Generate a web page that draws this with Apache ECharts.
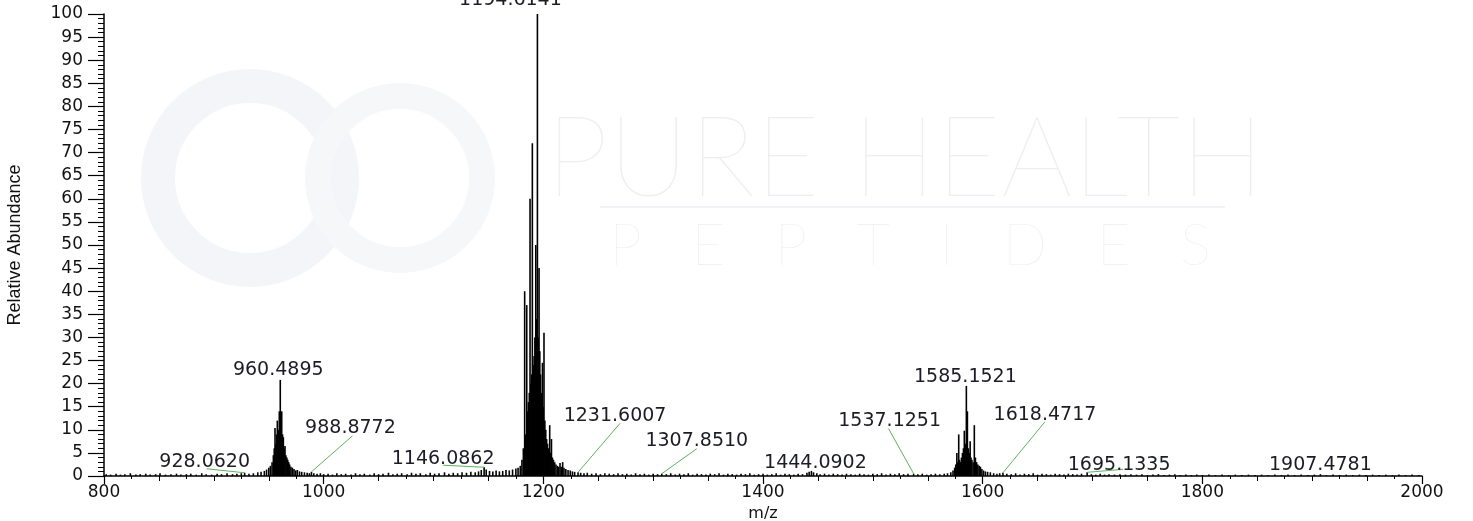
<!DOCTYPE html>
<html>
<head>
<meta charset="utf-8">
<script src="https://cdn.jsdelivr.net/npm/echarts@6/dist/echarts.min.js"></script>
<style>
  html, body { margin: 0; padding: 0; background: #fff; }
  #app { width: 1473px; height: 521px; }
</style>
</head>
<body>
<div id="app"></div>
<script>
// 坐标轴刻度
const xTicks = [800, 1000, 1200, 1400, 1600, 1800, 2000]
const yTicks = [0, 5, 10, 15, 20, 25, 30, 35, 40, 45, 50, 55, 60, 65, 70, 75, 80, 85, 90, 95, 100]

// 谱峰 [m/z, 相对丰度]
const noise800 = [
  [802, 0.4], [806, 0.3], [811, 0.5], [815, 0.3], [819, 0.4], [824, 0.6], [829, 0.3], [833, 0.4],
  [838, 0.5], [842, 0.3], [847, 0.4], [851, 0.6], [856, 0.3], [861, 0.4], [866, 0.5], [870, 0.3],
  [875, 0.4], [879, 0.5], [884, 0.3], [889, 0.6], [893, 0.4], [898, 0.3], [903, 0.5], [907, 0.4],
  [912, 0.6], [917, 0.4], [921, 0.5], [925, 0.6], [928.06, 0.7], [932, 0.5], [936, 0.6], [940, 0.8],
  [943, 0.9], [946, 1.1], [948, 1.4], [950, 1.8], [951.5, 2.2]
]
const cluster960 = [
  [953, 3], [954.2, 4.5], [955, 6], [955.7, 10.4], [956.5, 7], [957.2, 9], [957.8, 12], [958.6, 10],
  [959.6, 14], [960.49, 20.8], [961.1, 11], [961.8, 14], [962.6, 9], [963.3, 8.4], [964, 6], [964.8, 6.5],
  [965.6, 4.5], [966.5, 4], [967.3, 3.5], [968.2, 3], [969, 2.5], [970.2, 2], [971.5, 1.8], [973, 1.5],
  [974.5, 1.2], [976, 1.3], [978, 1], [980, 0.9], [982.5, 0.8], [985, 0.7], [987, 0.6], [988.88, 0.9],
  [991, 0.6], [994, 0.5], [997, 0.6], [1000, 0.4]
]
const noise1000 = [
  [1004, 0.5], [1008, 0.3], [1012, 0.6], [1016, 0.4], [1020, 0.5], [1025, 0.3], [1029, 0.6], [1033, 0.4],
  [1037, 0.5], [1042, 0.3], [1046, 0.6], [1050, 0.4], [1054, 0.5], [1059, 0.7], [1063, 0.4], [1067, 0.5],
  [1071, 0.6], [1076, 0.4], [1080, 0.7], [1084, 0.5], [1088, 0.6], [1093, 0.4], [1097, 0.7], [1101, 0.5],
  [1105, 0.6], [1110, 0.8], [1114, 0.5], [1118, 0.7], [1122, 0.6], [1126, 0.8], [1130, 0.7], [1134, 0.9],
  [1138, 0.8], [1141, 1], [1143.5, 1.3], [1146.09, 1.9], [1148, 1.4], [1151, 1.1], [1154, 1], [1157, 1.2],
  [1160, 1], [1163, 1.1], [1166, 1.3], [1169, 1.2], [1172, 1.4], [1175, 1.6], [1177, 1.8], [1179, 2.2],
  [1180.5, 3.5]
]
const cluster1194 = [
  [1181.8, 6], [1183, 40], [1183.8, 9], [1184.9, 37], [1185.6, 14], [1186.4, 16], [1187.2, 18], [1187.9, 60],
  [1188.7, 20], [1189.4, 22], [1190, 72], [1190.8, 24], [1191.6, 26], [1192.3, 30], [1193.1, 50], [1193.8, 34],
  [1194.61, 100], [1195.3, 30], [1196.1, 45], [1196.8, 27], [1197.5, 22], [1198.3, 18], [1199.2, 24.5], [1199.9, 15],
  [1200.6, 31], [1201.4, 12], [1202.2, 10], [1203, 8], [1203.8, 7], [1204.6, 6], [1205.8, 11], [1206.6, 5],
  [1207.4, 8], [1208.3, 4], [1209.2, 3.5], [1210.3, 3], [1211.5, 2.5], [1212.8, 2.2], [1214, 2], [1215.2, 2.8],
  [1216.4, 2], [1217.6, 3], [1218.8, 1.8], [1220.5, 1.5], [1222.5, 1.3], [1224.5, 1.2], [1226.5, 1], [1228.5, 0.9],
  [1231.6, 0.8], [1234, 0.7], [1237, 0.6], [1240, 0.7]
]
const noise1240 = [
  [1244, 0.5], [1248, 0.6], [1252, 0.4], [1256, 0.6], [1260, 0.5], [1264, 0.4], [1268, 0.6], [1272, 0.4],
  [1276, 0.5], [1280, 0.3], [1284, 0.6], [1288, 0.4], [1292, 0.5], [1296, 0.3], [1300, 0.5], [1304, 0.4],
  [1307.85, 0.5], [1312, 0.4], [1316, 0.6], [1320, 0.3], [1324, 0.5], [1328, 0.4], [1332, 0.6], [1336, 0.3],
  [1340, 0.5], [1344, 0.4], [1348, 0.3], [1352, 0.5], [1356, 0.4], [1360, 0.6], [1364, 0.3], [1368, 0.5],
  [1372, 0.4], [1376, 0.3], [1380, 0.5], [1384, 0.4], [1388, 0.6], [1392, 0.3], [1396, 0.4], [1400, 0.5],
  [1404, 0.3], [1408, 0.4], [1412, 0.6], [1416, 0.3], [1420, 0.5], [1424, 0.4], [1428, 0.3], [1432, 0.5],
  [1436, 0.4], [1440, 0.7], [1442, 0.9], [1444.09, 1.1], [1446, 0.8], [1449, 0.6], [1452, 0.4], [1456, 0.5],
  [1460, 0.3], [1464, 0.5], [1468, 0.4], [1472, 0.3], [1476, 0.5], [1480, 0.4], [1484, 0.3], [1488, 0.5],
  [1492, 0.4], [1496, 0.3], [1500, 0.5], [1504, 0.4], [1508, 0.6], [1512, 0.3], [1516, 0.5], [1520, 0.4],
  [1524, 0.6], [1528, 0.4], [1532, 0.5], [1537.13, 0.5], [1541, 0.4], [1545, 0.5], [1549, 0.3], [1553, 0.4],
  [1557, 0.5], [1561, 0.4], [1565, 0.5], [1568, 0.6], [1571, 0.8], [1573, 1.2], [1574.5, 1.8]
]
const cluster1585 = [
  [1575.5, 2.5], [1576.5, 5], [1577.3, 3], [1578.2, 9], [1579, 3.5], [1579.8, 3], [1580.7, 4], [1581.6, 5],
  [1582.5, 6], [1583.3, 9.8], [1584.2, 7], [1585.15, 19.5], [1586.1, 14], [1587, 6], [1587.8, 5], [1588.6, 7.5],
  [1589.4, 4], [1590.2, 3.5], [1591.3, 3], [1592.4, 11], [1593.4, 4], [1594.5, 3], [1595.6, 2.5], [1596.8, 2.2],
  [1598, 2], [1599.3, 1.5], [1600.8, 1.2], [1602.5, 1], [1604.5, 0.9], [1607, 0.8], [1610, 0.6], [1613, 0.5],
  [1615.5, 0.6], [1618.47, 0.7]
]
const noise1620 = [
  [1622, 0.5], [1626, 0.4], [1630, 0.6], [1634, 0.3], [1638, 0.5], [1642, 0.4], [1646, 0.6], [1650, 0.3],
  [1654, 0.5], [1658, 0.4], [1662, 0.3], [1666, 0.5], [1670, 0.4], [1674, 0.3], [1678, 0.5], [1682, 0.4],
  [1686, 0.3], [1690, 0.5], [1695.13, 0.8], [1699, 0.4], [1703, 0.3], [1707, 0.5], [1711, 0.3], [1715, 0.4],
  [1720, 0.3], [1725, 0.4], [1730, 0.3], [1735, 0.4], [1740, 0.3], [1745, 0.4], [1750, 0.2], [1755, 0.3],
  [1760, 0.4], [1765, 0.2], [1770, 0.3], [1775, 0.4], [1780, 0.2], [1785, 0.3], [1790, 0.2], [1795, 0.3],
  [1800, 0.2], [1806, 0.3], [1812, 0.2], [1818, 0.3], [1824, 0.2], [1830, 0.3], [1836, 0.2], [1842, 0.3],
  [1848, 0.2], [1854, 0.3], [1860, 0.2], [1866, 0.3], [1872, 0.2], [1878, 0.3], [1884, 0.2], [1890, 0.3],
  [1896, 0.2], [1902, 0.3], [1907.48, 0.4], [1913, 0.2], [1919, 0.3], [1925, 0.2], [1931, 0.3], [1937, 0.2],
  [1943, 0.3], [1949, 0.2], [1955, 0.3], [1961, 0.2], [1967, 0.3], [1973, 0.2], [1979, 0.3], [1985, 0.2],
  [1991, 0.3], [1997, 0.2]
]

// 标注的峰
const annotMz = [928.062, 960.4895, 988.8772, 1146.0862, 1194.6141, 1231.6007, 1307.851,
  1444.0902, 1537.1251, 1585.1521, 1618.4717, 1695.1335, 1907.4781]
const annotAbund = [0.7, 20.8, 0.9, 1.9, 100, 0.8, 0.5, 1.1, 0.5, 19.5, 0.7, 0.8, 0.4]
const annotLabels = ['928.0620', '960.4895', '988.8772', '1146.0862', '1194.6141', '1231.6007', '1307.8510',
  '1444.0902', '1537.1251', '1585.1521', '1618.4717', '1695.1335', '1907.4781']

// 标注文字相对峰顶的像素偏移，以及引线终点
const labelOffsets = [[-40, -11], [-2, -10], [39, -44], [-41, -8], [-27, -14], [37, -56], [35, -33],
  [4, -8], [-24, -53], [-1, -9], [42, -58], [32, -7], [0, -9]]
const leaderEnds = [[-38, -4], null, [41, -36], [-41, -2], null, [42, -49], [35, -25],
  null, [-25, -45], null, [42, -51], [36, -3], null]

const peaks = [].concat(noise800, cluster960, noise1000, cluster1194, noise1240, cluster1585, noise1620)
const annots = annotMz.map((m, i) => [m, annotAbund[i]])

const tickFont = 'DejaVu Sans'
const wm = '#eceef2' // 水印颜色

let myChart = echarts.init(document.getElementById('app'))

let option = {
  animation: false,
  backgroundColor: '#fff',
  grid: { left: 104, right: 51, top: 14, bottom: 45, containLabel: false, outerBoundsMode: 'none' },
  // 水印
  graphic: [
    { type: 'circle', z: -10, shape: { cx: 250, cy: 178, r: 92 }, style: { fill: 'none', stroke: '#f4f5f8', lineWidth: 34 } },
    { type: 'circle', z: -10, shape: { cx: 400, cy: 178, r: 82 }, style: { fill: 'none', stroke: '#f6f7f9', lineWidth: 26 } },
    { type: 'text', z: -10, x: 905, y: 160, style: { text: 'PURE HEALTH', align: 'center', verticalAlign: 'middle', font: '200 112px "Lato"', fill: wm } },
    { type: 'line', z: -10, shape: { x1: 600, y1: 207, x2: 1225, y2: 207 }, style: { stroke: '#f1f2f5', lineWidth: 2 } },
    { type: 'text', z: -10, x: 910, y: 246, style: { text: 'P   E   P   T   I   D   E   S', align: 'center', verticalAlign: 'middle', font: '200 58px "Lato"', fill: wm } }
  ],
  xAxis: [
    {
      type: 'value',
      min: xTicks[0],
      max: xTicks[xTicks.length - 1],
      interval: 200,
      name: 'm/z',
      nameLocation: 'middle',
      nameGap: 28,
      nameTextStyle: { fontFamily: tickFont, fontSize: 16, color: '#111' },
      axisLine: { show: true, onZero: false, lineStyle: { color: '#000', width: 1.5 } },
      axisTick: { show: true, length: 8, lineStyle: { color: '#000', width: 1.2 } },
      minorTick: { show: true, splitNumber: 8, length: 3, lineStyle: { color: '#000', width: 1 } },
      axisLabel: { fontFamily: tickFont, fontSize: 17, color: '#111', margin: 8, formatter: v => String(v) },
      splitLine: { show: false }
    },
    {
      type: 'value',
      position: 'bottom',
      min: xTicks[0],
      max: xTicks[xTicks.length - 1],
      interval: 50,
      axisLine: { show: false },
      axisTick: { show: true, length: 5, lineStyle: { color: '#000', width: 1 } },
      axisLabel: { show: false },
      splitLine: { show: false }
    }
  ],
  yAxis: {
    type: 'value',
    min: yTicks[0],
    max: yTicks[yTicks.length - 1],
    interval: 5,
    name: 'Relative Abundance',
    nameLocation: 'middle',
    nameGap: 80,
    nameTextStyle: { fontFamily: 'Liberation Sans Narrow, Liberation Sans', fontSize: 18, color: '#111' },
    axisLine: { show: true, lineStyle: { color: '#000', width: 1.5 } },
    axisTick: { show: true, length: 16, lineStyle: { color: '#000', width: 1.2 } },
    minorTick: { show: true, splitNumber: 5, length: 6, lineStyle: { color: '#000', width: 1 } },
    axisLabel: { fontFamily: tickFont, fontSize: 17, color: '#111', margin: 21 },
    splitLine: { show: false }
  },
  series: [
    {
      // 质谱棒状图
      type: 'custom',
      silent: true,
      data: peaks,
      encode: { x: 0, y: 1 },
      renderItem (params, api) {
        let top = api.coord([api.value(0), api.value(1)])
        let base = api.coord([api.value(0), 0])
        return {
          type: 'line',
          shape: { x1: top[0], y1: top[1], x2: base[0], y2: base[1] },
          style: { stroke: '#000', lineWidth: 1.6 }
        }
      }
    },
    {
      // 峰标注
      type: 'custom',
      silent: true,
      data: annots,
      encode: { x: 0, y: 1 },
      renderItem (params, api) {
        let i = params.dataIndex
        let p = api.coord([api.value(0), api.value(1)])
        let off = labelOffsets[i]
        let end = leaderEnds[i]
        let children = []
        if (end) {
          children.push({
            type: 'line',
            shape: { x1: p[0], y1: p[1], x2: p[0] + end[0], y2: p[1] + end[1] },
            style: { stroke: '#5cb35c', lineWidth: 1 }
          })
        }
        children.push({
          type: 'text',
          x: p[0] + off[0],
          y: p[1] + off[1],
          style: {
            text: annotLabels[i],
            align: 'center',
            verticalAlign: 'middle',
            font: '19px "DejaVu Sans"',
            fill: '#1c1c26'
          }
        })
        return { type: 'group', children }
      }
    }
  ]
}

myChart.setOption(option)
</script>
</body>
</html>
